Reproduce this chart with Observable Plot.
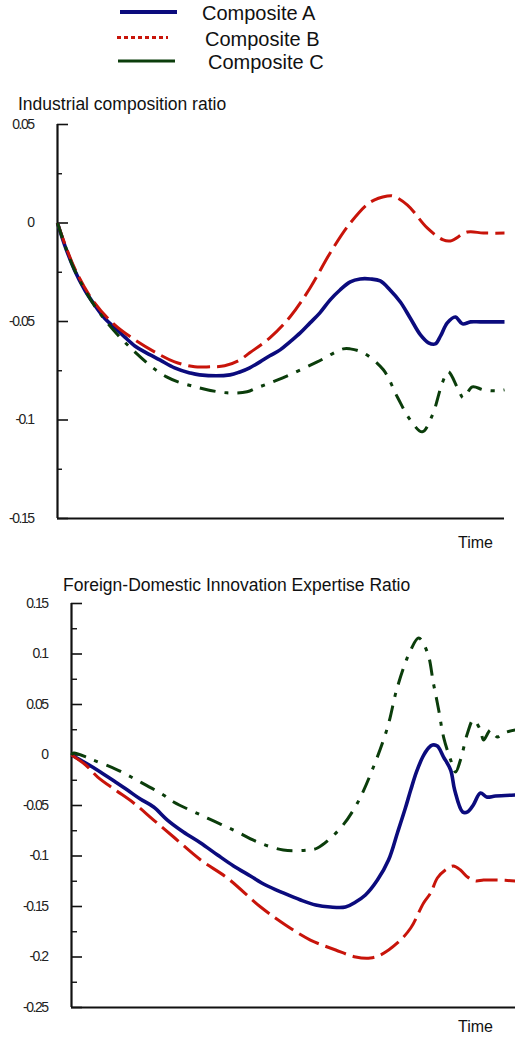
<!DOCTYPE html>
<html>
<head>
<meta charset="utf-8">
<script src="https://cdn.jsdelivr.net/npm/d3@7"></script>
<script src="https://cdn.jsdelivr.net/npm/@observablehq/plot@0.6"></script>
<style>
  html, body { margin: 0; padding: 0; background: #fff; }
  body { width: 515px; height: 1038px; position: relative; overflow: hidden;
         font-family: "Liberation Sans", Arial, sans-serif; color: #111; }
  .abs { position: absolute; white-space: nowrap; line-height: 1; }
  .leg { font-size: 20px; }
  .title { font-size: 17.5px; }
  .time { font-size: 16px; }
  .plot { position: absolute; left: 0; }
</style>
</head>
<body>
<div id="root"></div>
<script>
// ---------------- DATA ----------------
const seriesNames = ["Composite A", "Composite B", "Composite C"];
const seriesColors = ["#0b0b7d", "#c8140a", "#0b3d0b"];

const titleTop = "Industrial composition ratio";
const titleBottom = "Foreign-Domestic Innovation Expertise Ratio";
const xLabel = "Time";

const ticksTopMajor = [0.05, 0, -0.05, -0.1, -0.15];
const ticksTopMinor = [0.025, -0.025, -0.075, -0.125];
const ticksBottomMajor = [0.15, 0.1, 0.05, 0, -0.05, -0.1, -0.15, -0.2, -0.25];
const ticksBottomMinor = [0.125, 0.075, 0.025, -0.025, -0.075, -0.125, -0.175, -0.225];

// Panel 1: Industrial composition ratio, [time, value]
const industrialA = [[0,0],[1.6,-0.0112],[3.8,-0.0238],[6.1,-0.034],[8.3,-0.0416],[10.5,-0.0482],[12.8,-0.0532],[15,-0.0578],[17.3,-0.0624],[19.5,-0.0654],[22.9,-0.0695],[26.2,-0.0735],[29.6,-0.0761],[31.8,-0.0771],[38.6,-0.0771],[40.8,-0.0756],[43,-0.0735],[45.3,-0.0705],[47.5,-0.0674],[49.8,-0.0644],[52,-0.0603],[54.3,-0.0558],[56.5,-0.0507],[58.7,-0.0456],[61,-0.039],[63.2,-0.034],[65.5,-0.0299],[67.7,-0.0284],[70,-0.0284],[72.2,-0.0294],[74.4,-0.034],[76.7,-0.0401],[78.9,-0.0482],[81.2,-0.0568],[83,-0.0608],[84.5,-0.0614],[85.7,-0.0573],[87.2,-0.0507],[89,-0.0477],[90.6,-0.0512],[92.4,-0.0502],[94.6,-0.0502],[100,-0.0502]];
const industrialB = [[0,0],[3.8,-0.0228],[8.3,-0.0406],[12.8,-0.0517],[17.3,-0.0593],[21.7,-0.0654],[26.2,-0.0705],[30.7,-0.073],[34.1,-0.073],[37.4,-0.0725],[40.8,-0.0695],[43,-0.0659],[47.5,-0.0583],[52,-0.0477],[56.5,-0.033],[61,-0.0152],[65.5,0],[70,0.0106],[73.8,0.0137],[75.1,0.0137],[78.3,0.0091],[82.7,-0.0025],[86.3,-0.0086],[87.9,-0.0091],[91.7,-0.0046],[95.3,-0.0051],[100,-0.0051]];
const industrialC = [[0,0],[3.8,-0.0238],[9.4,-0.0456],[16.8,-0.0644],[24.4,-0.0781],[31.8,-0.0837],[37.9,-0.0862],[42.4,-0.0857],[44.6,-0.0837],[50.4,-0.0786],[58.1,-0.0705],[63.9,-0.0639],[65.5,-0.0639],[68.4,-0.0659],[72.9,-0.0745],[76,-0.0882],[78.9,-0.0999],[81.6,-0.106],[83.9,-0.0973],[86.1,-0.0811],[87.4,-0.0755],[89.7,-0.0847],[90.8,-0.0887],[92.8,-0.0832],[95.3,-0.0847],[98.4,-0.0852],[100,-0.0847]];

// Panel 2: Foreign-Domestic Innovation Expertise Ratio, [time, value]
const expertiseA = [[0,0],[3.2,-0.0079],[6.5,-0.0168],[9.9,-0.0267],[12.6,-0.0347],[15.5,-0.0436],[18.5,-0.0515],[21.6,-0.0644],[25.2,-0.0762],[29.1,-0.0871],[32.9,-0.099],[36.5,-0.1099],[40.3,-0.1198],[43.7,-0.1287],[47.7,-0.1366],[51.6,-0.1436],[55,-0.1485],[58.3,-0.1505],[61.7,-0.1505],[64,-0.1455],[66.2,-0.1386],[68.9,-0.1238],[71.4,-0.104],[73.4,-0.0772],[75.2,-0.0525],[76.4,-0.0347],[77.7,-0.0168],[79.1,-0.002],[80.4,0.0069],[81.3,0.0099],[82.4,0.0089],[83.8,-0.002],[85.4,-0.0149],[86.3,-0.0347],[88.1,-0.0564],[89.2,-0.0564],[90.5,-0.0495],[92.1,-0.0376],[93.5,-0.0416],[95.5,-0.0406],[100,-0.0396]];
const expertiseB = [[0,0],[3.2,-0.0099],[5.9,-0.0218],[9.9,-0.0347],[14,-0.0475],[18.5,-0.0644],[23,-0.0812],[29.1,-0.104],[35.1,-0.1218],[42.6,-0.1505],[48.2,-0.1683],[53.8,-0.1832],[59.5,-0.1931],[64,-0.2],[67.3,-0.201],[69.6,-0.198],[73.4,-0.1861],[76.4,-0.1713],[79.3,-0.1465],[80.9,-0.1366],[82.4,-0.1218],[84.2,-0.1139],[86,-0.1099],[87.6,-0.1139],[89.2,-0.1208],[91,-0.1247],[92.8,-0.1238],[95.9,-0.1238],[100,-0.1247]];
const expertiseC = [[0,0],[0.5,0.002],[4.3,-0.004],[10.4,-0.0149],[15.5,-0.0267],[20.7,-0.0396],[23,-0.0465],[30.6,-0.0624],[36.5,-0.0743],[41.9,-0.0861],[47.7,-0.0941],[53.2,-0.0941],[55.4,-0.0921],[60.6,-0.0723],[64.4,-0.0475],[68,-0.0119],[71.2,0.0277],[73.4,0.0673],[76.4,0.104],[78.2,0.1158],[80.2,0.101],[81.5,0.0713],[82.7,0.0446],[83.8,0.0178],[85.4,-0.005],[86.5,-0.0168],[87.6,-0.005],[89.2,0.0218],[90.5,0.0347],[92.1,0.0248],[92.8,0.0149],[94.4,0.0248],[95.9,0.0178],[97.3,0.0218],[100,0.0248]];

// ---------------- STYLE ----------------
const lineStyles = [
  {strokeWidth: 3.6, strokeDasharray: null},
  {strokeWidth: 3, strokeDasharray: "22,7"},
  {strokeWidth: 3, strokeDasharray: "16,9,4,9"}
];
const fontFamily = '"Liberation Sans", Arial, sans-serif';
const fmt = d => String(+d.toFixed(3));

const root = document.getElementById("root");
function addText(txt, cls, left, top) {
  const el = document.createElement("div");
  el.className = "abs " + cls;
  el.style.left = left + "px";
  el.style.top = top + "px";
  el.textContent = txt;
  root.appendChild(el);
  return el;
}

// ---------------- LEGEND ----------------
const legendRows = [
  {y: 12, x1: 120, x2: 177, tx: 202, dash: null, w: 4},
  {y: 37.5, x1: 117, x2: 168, tx: 205, dash: "4,3", w: 3.2},
  {y: 61, x1: 118, x2: 175, tx: 208, dash: null, w: 3}
];
const legSvg = d3.create("svg").attr("width", 515).attr("height", 80)
  .style("position", "absolute").style("left", "0px").style("top", "0px");
legendRows.forEach((r, i) => {
  legSvg.append("line").attr("x1", r.x1).attr("x2", r.x2).attr("y1", r.y).attr("y2", r.y)
    .attr("stroke", seriesColors[i]).attr("stroke-width", r.w)
    .attr("stroke-dasharray", r.dash);
});
root.appendChild(legSvg.node());
legendRows.forEach((r, i) => addText(seriesNames[i], "leg", r.tx, r.y - 9));

// ---------------- PANELS ----------------
function panel({series, top, height, mLeft, mRight, mTop, mBottom, yDomain, major, minor, majorPx, minorPx}) {
  const width = 515;
  const pxPerUnit = (width - mLeft - mRight) / 100;
  const marks = [
    Plot.axisY({ticks: major, tickSize: 0, tickPadding: 24, tickFormat: fmt, label: null,
                fontSize: 14, fill: "#222"}),
    Plot.ruleY(major, {x1: 0, x2: majorPx / pxPerUnit, stroke: "#111", strokeWidth: 1.6}),
    Plot.ruleY(minor, {x1: 0, x2: minorPx / pxPerUnit, stroke: "#111", strokeWidth: 1.4}),
    Plot.ruleX([0], {y1: yDomain[0], y2: yDomain[1], stroke: "#111", strokeWidth: 2.2}),
    Plot.ruleY([yDomain[0]], {x1: 0, x2: 100, stroke: "#111", strokeWidth: 2.2})
  ];
  series.forEach((s, i) => {
    const rows = s.map(([t, v]) => ({t, v, series: seriesNames[i]}));
    marks.push(Plot.line(rows, {x: "t", y: "v", stroke: seriesColors[i],
      strokeWidth: lineStyles[i].strokeWidth, strokeDasharray: lineStyles[i].strokeDasharray,
      curve: "catmull-rom", strokeLinecap: "butt"}));
  });
  const svg = Plot.plot({
    width, height,
    marginLeft: mLeft, marginRight: mRight, marginTop: mTop, marginBottom: mBottom,
    x: {domain: [0, 100], axis: null},
    y: {domain: yDomain, axis: null},
    style: {background: "transparent", fontFamily, overflow: "visible"},
    marks
  });
  svg.classList.add("plot");
  svg.style.top = top + "px";
  svg.querySelectorAll("g[aria-label='y-axis tick label'] text, g[aria-label='y-axis tick label']")
    .forEach(el => el.setAttribute("letter-spacing", "-1.5"));
  root.appendChild(svg);
}

addText(titleTop, "title", 18, 96);
panel({series: [industrialA, industrialB, industrialC], top: 110, height: 440,
       mLeft: 57, mRight: 11, mTop: 14, mBottom: 32, yDomain: [-0.15, 0.05],
       major: ticksTopMajor, minor: ticksTopMinor, majorPx: 11, minorPx: 5});
addText(xLabel, "time", 458, 535);

addText(titleBottom, "title", 63, 577);
panel({series: [expertiseA, expertiseB, expertiseC], top: 593, height: 445,
       mLeft: 71, mRight: 0, mTop: 10, mBottom: 31, yDomain: [-0.25, 0.15],
       major: ticksBottomMajor, minor: ticksBottomMinor, majorPx: 11, minorPx: 6});
addText(xLabel, "time", 458, 1019);
</script>
</body>
</html>
